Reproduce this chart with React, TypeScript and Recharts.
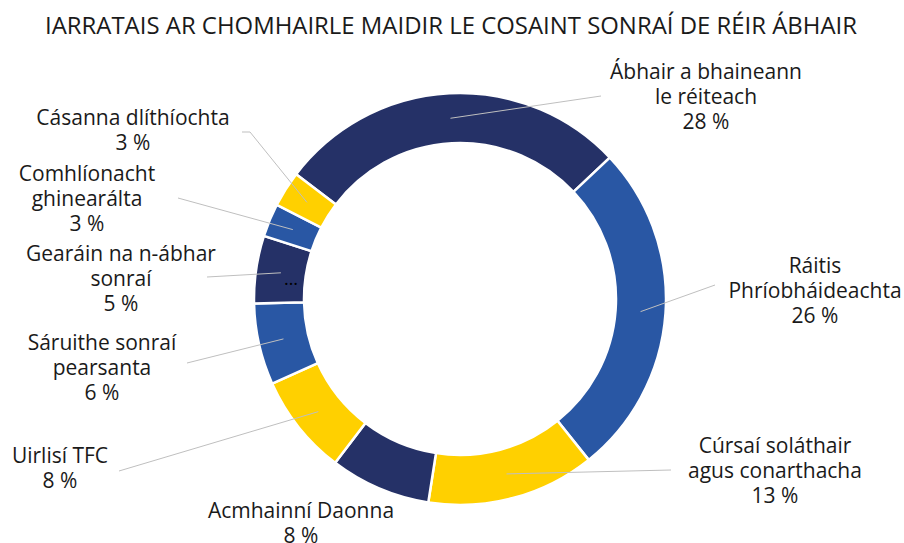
import React from "react";
import { PieChart, Pie, Cell } from "recharts";

const title = "IARRATAIS AR CHOMHAIRLE MAIDIR LE COSAINT SONRAÍ DE RÉIR ÁBHAIR";

const categories = [
  "Ábhair a bhaineann\nle réiteach",
  "Ráitis\nPhríobháideachta",
  "Cúrsaí soláthair\nagus conarthacha",
  "Acmhainní Daonna",
  "Uirlisí TFC",
  "Sáruithe sonraí\npearsanta",
  "Gearáin na n-ábhar\nsonraí",
  "Comhlíonacht\nghinearálta",
  "Cásanna dlíthíochta",
];

const shares = [27.6, 26.3, 13.2, 7.9, 7.9, 6.4, 5.3, 2.6, 2.8];

const colors = [
  "#253167", "#2957A4", "#FFD000", "#253167", "#FFD000",
  "#2957A4", "#253167", "#2957A4", "#FFD000",
];

const data = categories.map((name, i) => ({ name, value: shares[i] }));

// label layout (text centre x, first line centre y, leader end points)
const labelLayout: { tx: number; ty: number; line: number[][] | null; dots?: boolean }[] = [
  { tx: 706, ty: 71, line: [[601, 96]] },
  { tx: 815, ty: 265, line: [[715, 285]] },
  { tx: 775, ty: 445, line: [[671, 470]] },
  { tx: 301, ty: 510, line: null },
  { tx: 60, ty: 455, line: [[119, 471]] },
  { tx: 102, ty: 342, line: [[187, 363]] },
  { tx: 121, ty: 253, line: [[207, 277]], dots: true },
  { tx: 87, ty: 173, line: [[178, 198]] },
  { tx: 133, ty: 117, line: [[250, 132], [242, 132]] },
];

const RAD = Math.PI / 180;
const FONT = "'Open Sans', sans-serif";

const renderLabel = (props: any) => {
  const { cx, cy, midAngle, innerRadius, outerRadius, index, percent, name } = props;
  const lay = labelLayout[index];
  const r = (innerRadius + outerRadius) / 2;
  const sx = cx + r * Math.cos(-midAngle * RAD);
  const sy = cy + r * Math.sin(-midAngle * RAD);
  const lines = String(name).split("\n");
  lines.push(`${Math.round(percent * 100)} %`);
  let path = "";
  if (lay.line) {
    path = `M${sx},${sy}` + lay.line.map((p) => ` L${p[0]},${p[1]}`).join("");
  }
  return (
    <g key={`lbl-${index}`}>
      {path && <path d={path} stroke="#BFBFBF" strokeWidth={1} fill="none" />}
      {lay.dots && (
        <text x={sx + 10} y={sy + 5} fill="#000" fontSize={18} fontFamily={FONT} textAnchor="middle" dominantBaseline="central">
          …
        </text>
      )}
      {lines.map((ln, k) => (
        <text
          key={k}
          x={lay.tx}
          y={lay.ty + k * 25}
          fill="#1a1a1a"
          fontSize={21}
          fontFamily={FONT}
          textAnchor="middle"
          dominantBaseline="central"
        >
          {ln}
        </text>
      ))}
    </g>
  );
};

export default function App() {
  return (
    <div style={{ position: "absolute", left: 0, top: 0, width: 904, height: 543, background: "#fff" }}>
      <PieChart width={904} height={543} margin={{ top: 0, right: 0, bottom: 0, left: 0 }}>
        <text
          x={451}
          y={24}
          textAnchor="middle"
          dominantBaseline="central"
          fontSize={24}
          fontFamily={FONT}
          fill="#1a1a1a"
          textLength={812}
          lengthAdjust="spacingAndGlyphs"
        >
          {title}
        </text>
        <Pie
          data={data}
          dataKey="value"
          nameKey="name"
          cx={460}
          cy={299}
          innerRadius={156}
          outerRadius={206}
          startAngle={142.7}
          endAngle={-217.3}
          stroke="#ffffff"
          strokeWidth={2.5}
          label={renderLabel}
          labelLine={false}
          isAnimationActive={false}
        >
          {data.map((d, i) => (
            <Cell key={d.name} fill={colors[i]} />
          ))}
        </Pie>
      </PieChart>
    </div>
  );
}
